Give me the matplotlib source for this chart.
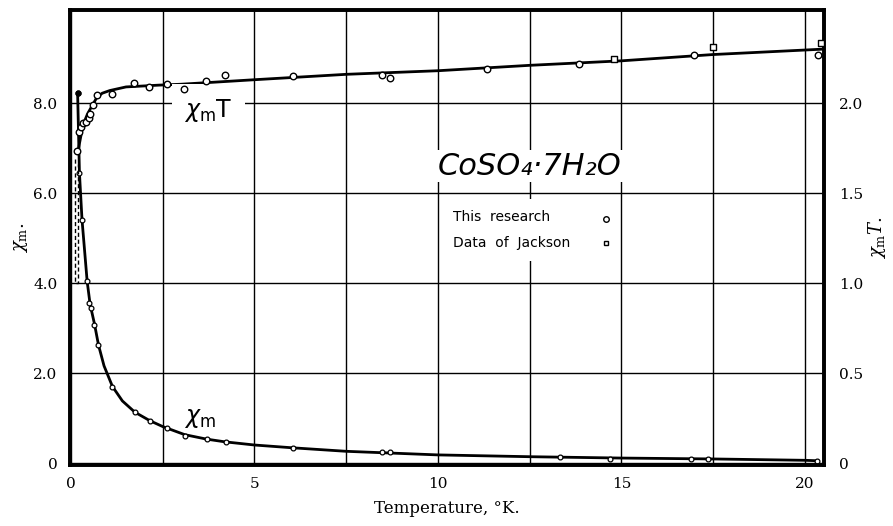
import matplotlib.pyplot as plt

# susceptibility chi_m (left axis) - measured points
temp_chi_m = [0.18, 0.23, 0.30, 0.44, 0.50, 0.545, 0.63, 0.74, 1.13, 1.74, 2.15,
              2.61, 3.11, 3.70, 4.22, 6.06, 8.47, 8.69, 13.32, 14.69, 16.9, 17.37, 20.32]
chi_m = [8.23, 6.45, 5.41, 4.05, 3.55, 3.44, 3.07, 2.62, 1.68, 1.14, 0.94,
         0.77, 0.60, 0.53, 0.47, 0.34, 0.25, 0.24, 0.13, 0.08, 0.08, 0.10, 0.05]

# smooth curve drawn through chi_m
curve_T_chi_m = [0.18, 0.23, 0.30, 0.44, 0.52, 0.64, 0.75, 0.90, 1.13, 1.40, 1.74, 2.15,
                 2.50, 3.10, 3.70, 4.20, 5.0, 6.0, 7.5, 10.0, 12.5, 15.0, 17.5, 20.0, 20.35]
curve_chi_m = [8.23, 6.45, 5.41, 4.04, 3.53, 3.09, 2.62, 2.16, 1.70, 1.38, 1.13, 0.94,
               0.81, 0.63, 0.53, 0.47, 0.40, 0.34, 0.26, 0.18, 0.14, 0.11, 0.09, 0.06, 0.05]

# chi_m * T (right axis) - this research
temp_chi_mT = [0.17, 0.23, 0.28, 0.34, 0.41, 0.48, 0.52, 0.59, 0.72, 1.11, 1.72, 2.12,
               2.62, 3.08, 3.69, 4.19, 6.04, 8.47, 8.69, 11.33, 13.85, 16.98, 20.37]
chi_mT = [1.735, 1.84, 1.87, 1.89, 1.895, 1.92, 1.94, 1.99, 2.045, 2.05, 2.11, 2.09,
          2.105, 2.08, 2.125, 2.155, 2.15, 2.155, 2.14, 2.19, 2.22, 2.27, 2.27]

# chi_m * T - data of Jackson
temp_jackson = [14.80, 17.50, 20.44]
chi_mT_jackson = [2.245, 2.31, 2.335]

# smooth curve drawn through chi_m * T
curve_T_chi_mT = [0.19, 0.23, 0.29, 0.35, 0.45, 0.56, 0.70, 0.85, 1.06, 1.5, 2.4, 3.0,
                  5.0, 7.5, 10.0, 12.5, 15.0, 17.5, 20.0, 20.5]
curve_chi_mT = [1.725, 1.775, 1.84, 1.89, 1.94, 1.98, 2.03, 2.055, 2.07, 2.09, 2.10, 2.105,
                2.13, 2.16, 2.18, 2.21, 2.235, 2.27, 2.295, 2.30]

# dashed extrapolation towards T = 0
dash_T = [0.10, 0.10, 0.19, 0.19]
dash_chi_mT = [1.69, 1.0, 1.0, 1.66]

x_ticks = [0, 5, 10, 15, 20]
x_grid = [2.5, 7.5, 12.5, 17.5]
left_ticks = [0, 2, 4, 6, 8]
left_labels = ['0', '2.0', '4.0', '6.0', '8.0']
right_ticks = [0, 0.5, 1.0, 1.5, 2.0]
right_labels = ['0', '0.5', '1.0', '1.5', '2.0']
legend_labels = ['This  research', 'Data  of  Jackson']

plt.rcParams['font.family'] = 'DejaVu Serif'
plt.rcParams['mathtext.fontset'] = 'dejavuserif'

fig = plt.figure(figsize=(8.93, 5.26), dpi=100)
ax = fig.add_axes([0.0784, 0.116, 0.8443, 0.865])
ax.set_xlim(-0.027, 20.52)
ax.set_ylim(-0.044, 10.07)

ax.set_xticks(x_ticks)
ax.set_xticks(x_grid, minor=True)
ax.set_yticks(left_ticks)
ax.set_yticklabels(left_labels)
ax.tick_params(which='both', length=0, labelsize=11)
ax.tick_params(axis='x', pad=9)
ax.tick_params(axis='y', pad=9)
ax.grid(True, which='both', color='black', linewidth=1.0)
ax.set_axisbelow(True)

for s in ax.spines.values():
    s.set_linewidth(2.6)

ax.plot(curve_T_chi_m, curve_chi_m, color='black', linewidth=2.0, zorder=3)
ax.scatter(temp_chi_m, chi_m, s=12, facecolors='white', edgecolors='black', linewidths=0.9, zorder=4)
ax.plot(temp_chi_m[0], chi_m[0], 'o', color='black', markersize=3.5, zorder=5)

ax.set_xlabel('Temperature, °K.', fontsize=12, labelpad=6)
ax.set_ylabel(r'$\chi_{\rm m}$.', fontsize=13, labelpad=2)

ax2 = ax.twinx()
ax2.set_ylim(-0.044 / 4, 10.07 / 4)
ax2.set_yticks(right_ticks)
ax2.set_yticklabels(right_labels)
ax2.tick_params(length=0, labelsize=11, pad=11)
for s in ax2.spines.values():
    s.set_linewidth(2.6)
ax2.set_ylabel(r'$\chi_{\rm m}T$.', fontsize=13, labelpad=2)

ax2.plot(curve_T_chi_mT, curve_chi_mT, color='black', linewidth=2.0, zorder=3)
ax2.plot(dash_T, dash_chi_mT, color='black', linewidth=1.0, linestyle=(0, (3, 2)), zorder=3)
ax2.scatter(temp_chi_mT, chi_mT, s=22, facecolors='white', edgecolors='black', linewidths=1.0, zorder=4)
ax2.scatter(temp_jackson, chi_mT_jackson, s=16, marker='s', facecolors='white',
            edgecolors='black', linewidths=1.0, zorder=4)

ax2.text(3.75, 1.96, r'$\chi_{\mathsf{m}}\mathsf{T}$', fontsize=17, ha='center', va='center',
         math_fontfamily='dejavusans',
         bbox=dict(facecolor='white', edgecolor='none', pad=9))
ax.text(3.5, 1.0, r'$\chi_{\mathsf{m}}$', fontsize=17, ha='center', va='center',
        math_fontfamily='dejavusans')

ax2.text(12.5, 1.65, 'CoSO₄·7H₂O', fontsize=22, fontstyle='italic', family='DejaVu Sans',
         ha='center', va='center',
         bbox=dict(facecolor='white', edgecolor='none', pad=1))

# legend block: labels on the left, symbols on the right
ax2.text(0.508, 0.516, '\n'.join(legend_labels), transform=ax2.transAxes,
         ha='left', va='center', family='DejaVu Sans', fontsize=10, linespacing=2.1,
         bbox=dict(facecolor='white', edgecolor='none', boxstyle='square,pad=0.8'), zorder=5)
ax2.plot([0.711], [0.54], transform=ax2.transAxes, linestyle='none', marker='o', markersize=4,
         markerfacecolor='white', markeredgecolor='black', markeredgewidth=1.0, zorder=6)
ax2.plot([0.711], [0.487], transform=ax2.transAxes, linestyle='none', marker='s', markersize=3.5,
         markerfacecolor='white', markeredgecolor='black', markeredgewidth=1.0, zorder=6)

fig.savefig('out.png', dpi=100)
